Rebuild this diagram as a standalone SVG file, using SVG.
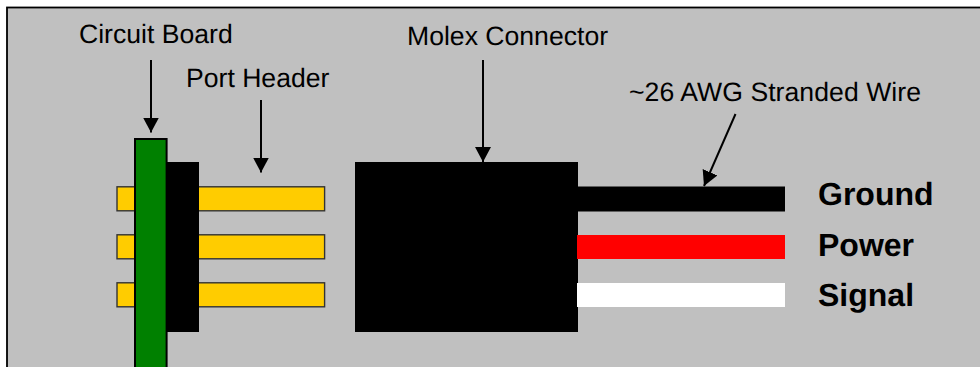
<svg xmlns="http://www.w3.org/2000/svg" width="980" height="367" viewBox="0 0 980 367">
<style>
text{text-rendering:geometricPrecision}
.t{font-family:"Liberation Sans",Arial,sans-serif;font-size:26.6px;fill:#000}
.b{font-family:"Liberation Sans",Arial,sans-serif;font-size:32px;font-weight:bold;fill:#000}
.pin{fill:#ffcc00;stroke:#333;stroke-width:1.4}
.a{stroke:#000;stroke-width:2;fill:none;marker-end:url(#h)}
</style>
<defs><marker id="h" markerUnits="userSpaceOnUse" markerWidth="18" markerHeight="18" refX="15" refY="8" orient="auto"><path d="M0 0L15 8L0 16Z" fill="#000"/></marker></defs>
<rect width="980" height="367" fill="#fff"/>
<rect id="frame" x="7" y="7.5" width="980" height="367" fill="#c0c0c0" stroke="#000" stroke-width="1.8"/>
<g id="port-header">
<rect class="pin" x="117" y="186.8" width="207.6" height="24"/>
<rect class="pin" x="117" y="234.8" width="207.6" height="24"/>
<rect class="pin" x="117" y="282.8" width="207.6" height="24"/>
<rect x="167" y="162" width="32" height="170" fill="#000"/>
</g>
<g id="circuit-board"><rect x="135" y="139" width="31.6" height="240" fill="#008000" stroke="#000" stroke-width="2"/></g>
<g id="molex-connector"><rect x="355" y="162" width="223" height="170" fill="#000"/></g>
<g id="wires">
<rect x="578" y="186.5" width="207" height="25" fill="#000"/>
<rect x="577" y="235" width="208" height="24" fill="#f00"/>
<rect x="577" y="283" width="208" height="24" fill="#fff"/>
</g>
<g id="connectors">
<path class="a" d="M151 60V132.5"/>
<path class="a" d="M261 100V172.5"/>
<path class="a" d="M483 60V162"/>
<path class="a" d="M735.5 114L704 186"/>
</g>
<g id="labels">
<text class="t" x="79" y="43">Circuit Board</text>
<text class="t" x="186" y="87">Port Header</text>
<text class="t" x="407" y="45">Molex Connector</text>
<text class="t" x="629" y="101" textLength="292">~26 AWG Stranded Wire</text>
<text class="b" x="818" y="204.5">Ground</text>
<text class="b" x="818" y="255.5">Power</text>
<text class="b" x="818" y="305.5">Signal</text>
</g>
</svg>
